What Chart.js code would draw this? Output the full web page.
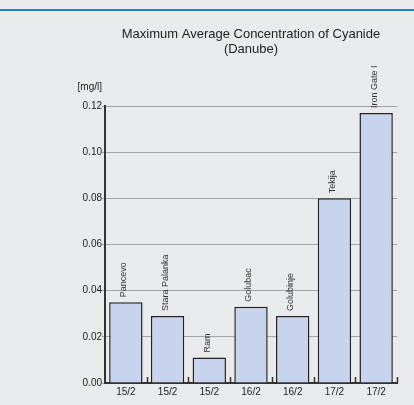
<!DOCTYPE html>
<html>
<head>
<meta charset="utf-8">
<script src="https://cdn.jsdelivr.net/npm/chart.js@4"></script>
<style>
  html, body { margin: 0; padding: 0; background: #e9eaec; }
  #wrap { width: 414px; height: 405px; }
</style>
</head>
<body>
<div id="wrap"><canvas id="cyanide" width="414" height="405"></canvas></div>
<script>
var stations = ['Pancevo', 'Stara Palanka', 'Ram', 'Golubac', 'Golubinje', 'Tekija', 'Iron Gate I'];
var dates = ['15/2', '15/2', '15/2', '16/2', '16/2', '17/2', '17/2'];
var concentration = [0.035, 0.029, 0.011, 0.033, 0.029, 0.080, 0.117];
var yTicks = [0.00, 0.02, 0.04, 0.06, 0.08, 0.10, 0.12];

// frame, title, unit label, bar names, little category ticks
var decor = {
    id: 'decor',
    beforeDraw: function (chart) {
        var ctx = chart.ctx;
        ctx.save();
        ctx.fillStyle = '#e9eaec';
        ctx.fillRect(0, 0, chart.width, chart.height);
        ctx.strokeStyle = '#1683d6';
        ctx.lineWidth = 2;
        ctx.beginPath();
        ctx.moveTo(0, 10);
        ctx.lineTo(chart.width, 10);
        ctx.stroke();
        ctx.restore();
    },
    afterDraw: function (chart) {
        var ctx = chart.ctx,
            area = chart.chartArea,
            meta = chart.getDatasetMeta(0);
        ctx.save();
        ctx.fillStyle = '#222';
        ctx.textAlign = 'center';
        ctx.textBaseline = 'middle';
        ctx.font = '13px "Liberation Sans", Arial, sans-serif';
        var cx = (area.left + area.right) / 2;
        ctx.fillText('Maximum Average Concentration of Cyanide', cx, 34);
        ctx.fillText('(Danube)', cx, 49);

        ctx.font = '10px "Liberation Sans", Arial, sans-serif';
        ctx.textAlign = 'right';
        ctx.fillText('[mg/l]', 102, 87);

        // station names, rotated above each bar
        ctx.font = '9px "Liberation Sans", Arial, sans-serif';
        ctx.fillStyle = '#333';
        meta.data.forEach(function (bar, i) {
            ctx.save();
            ctx.translate(bar.x - 2, bar.y - 5);
            ctx.rotate(-Math.PI / 2);
            ctx.textAlign = 'left';
            ctx.textBaseline = 'middle';
            ctx.fillText(stations[i], 0, 0);
            ctx.restore();
        });

        // short ticks between categories, pointing up into the plot
        ctx.strokeStyle = '#333';
        ctx.lineWidth = 1.5;
        var step = (area.right - area.left) / stations.length;
        for (var k = 1; k <= stations.length; k++) {
            var x = Math.round(area.left + step * k) + 0.5;
            ctx.beginPath();
            ctx.moveTo(x, area.bottom);
            ctx.lineTo(x, area.bottom - 6);
            ctx.stroke();
        }
        ctx.restore();
    }
};

var ctx = document.getElementById('cyanide').getContext('2d');
var myChart = new Chart(ctx, {
    type: 'bar',
    data: {
        labels: dates,
        datasets: [{
            data: concentration,
            backgroundColor: '#c8d4ed',
            borderColor: '#222',
            borderWidth: 1.5,
            barPercentage: 0.8,
            categoryPercentage: 1.0
        }]
    },
    options: {
        responsive: false,
        animation: false,
        layout: { padding: { top: 106, right: 17, left: 0, bottom: 0 } },
        plugins: {
            legend: { display: false },
            tooltip: { enabled: false }
        },
        scales: {
            x: {
                grid: { display: false, drawTicks: false },
                border: { color: '#333', width: 2 },
                ticks: {
                    color: '#222',
                    padding: 3,
                    font: { family: '"Liberation Sans", Arial, sans-serif', size: 10 }
                },
                afterFit: function (s) { s.height = 22; }
            },
            y: {
                min: 0,
                max: 0.12,
                afterBuildTicks: function (s) {
                    s.ticks = yTicks.map(function (v) { return { value: v }; });
                },
                grid: { color: '#a3a3a3', lineWidth: 1, tickLength: 3 },
                border: { color: '#333', width: 2 },
                ticks: {
                    color: '#222',
                    padding: 0,
                    font: { family: '"Liberation Sans", Arial, sans-serif', size: 10 },
                    callback: function (v) { return v.toFixed(2); }
                },
                afterFit: function (s) { s.width = 105; }
            }
        }
    },
    plugins: [decor]
});
</script>
</body>
</html>
